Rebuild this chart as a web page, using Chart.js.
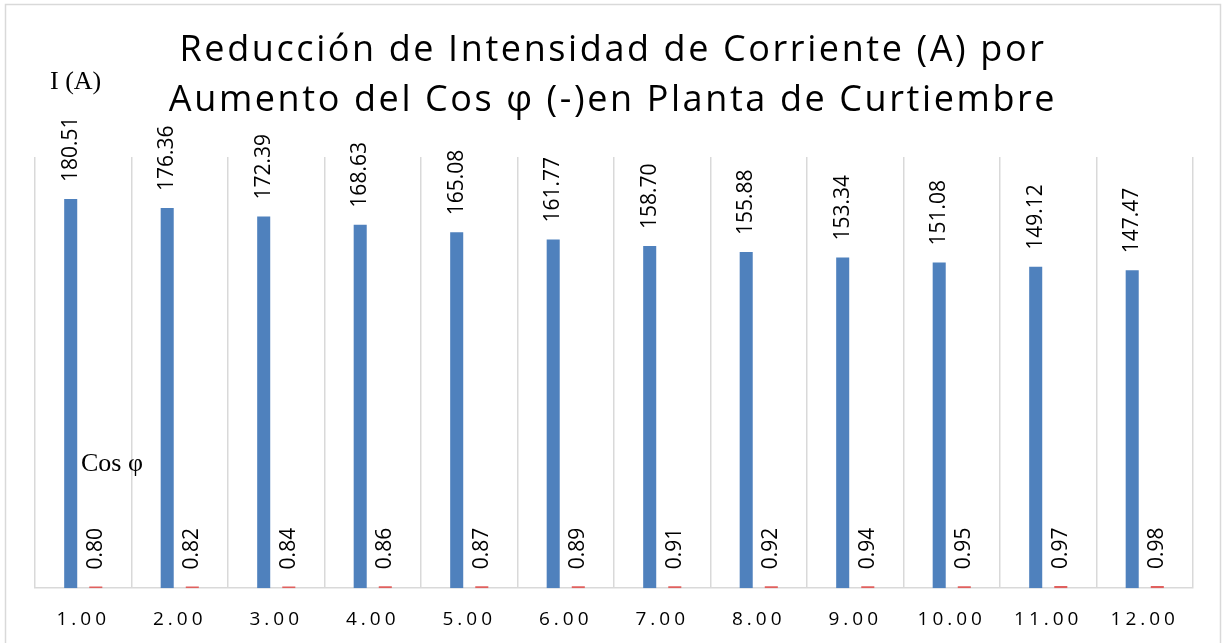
<!DOCTYPE html>
<html>
<head>
<meta charset="utf-8">
<script src="https://cdn.jsdelivr.net/npm/chart.js@4"></script>
<style>
  html, body { margin: 0; padding: 0; background: #fff; }
  canvas { display: block; }
</style>
</head>
<body>
<canvas id="chart" width="1222" height="643"></canvas>
<script>
// Data
const categories = ['1.00', '2.00', '3.00', '4.00', '5.00', '6.00', '7.00', '8.00', '9.00', '10.00', '11.00', '12.00'];
const corriente = [180.51, 176.36, 172.39, 168.63, 165.08, 161.77, 158.70, 155.88, 153.34, 151.08, 149.12, 147.47];
const cosPhi = [0.80, 0.82, 0.84, 0.86, 0.87, 0.89, 0.91, 0.92, 0.94, 0.95, 0.97, 0.98];
const titleLines = ['Reducción de Intensidad de Corriente (A) por', 'Aumento del Cos φ (-)en Planta de Curtiembre'];

const colors = {
    blue: '#4f81bd',
    red: '#e0605e',
    grid: '#d9d9d9',
    text: '#000000'
};

// frame, title, axis captions and value labels
const decorPlugin = {
    id: 'decor',
    beforeDraw(chart) {
        const ctx = chart.ctx;
        ctx.save();
        ctx.fillStyle = '#fff';
        ctx.fillRect(0, 0, chart.width, chart.height);
        ctx.strokeStyle = colors.grid;
        ctx.lineWidth = 1.5;
        ctx.strokeRect(5.5, 4.5, chart.width - 7, chart.height + 10);
        ctx.restore();
        // spaced-out tick labels like the original
        ctx.letterSpacing = '4px';
    },
    beforeDatasetsDraw(chart) {
        chart.ctx.letterSpacing = '0px';
    },
    afterDatasetsDraw(chart) {
        const ctx = chart.ctx;
        ctx.save();
        ctx.letterSpacing = '0px';
        ctx.fillStyle = colors.text;
        ctx.font = '21px "Open Sans", sans-serif';
        ctx.textAlign = 'left';
        ctx.textBaseline = 'middle';
        chart.data.datasets.forEach((ds, di) => {
            chart.getDatasetMeta(di).data.forEach((bar, i) => {
                ctx.save();
                ctx.translate(bar.x, bar.y - 17);
                ctx.rotate(-Math.PI / 2);
                ctx.fillText(ds.data[i].toFixed(2), 0, 0);
                ctx.restore();
            });
        });

        // title
        ctx.letterSpacing = '2.6px';
        ctx.textAlign = 'center';
        ctx.font = '36px "Open Sans", sans-serif';
        ctx.fillText(titleLines[0], chart.width / 2 + 2, 51);
        ctx.fillText(titleLines[1], chart.width / 2 + 2, 101);

        // axis captions
        ctx.letterSpacing = '0px';
        ctx.textAlign = 'left';
        ctx.font = '26px "Liberation Serif", serif';
        ctx.fillText('I (A)', 50, 82);
        ctx.fillText('Cos φ', 81, 464);
        ctx.restore();
    }
};

new Chart(document.getElementById('chart').getContext('2d'), {
    type: 'bar',
    data: {
        labels: categories,
        datasets: [
            {
                label: 'I (A)',
                data: corriente,
                backgroundColor: colors.blue,
                barPercentage: 0.52,
                categoryPercentage: 0.52
            },
            {
                label: 'Cos φ',
                data: cosPhi,
                backgroundColor: colors.red,
                barPercentage: 0.52,
                categoryPercentage: 0.52
            }
        ]
    },
    options: {
        responsive: false,
        animation: false,
        layout: { padding: { left: 35, right: 29, top: 157, bottom: -8 } },
        plugins: {
            legend: { display: false },
            title: { display: false },
            tooltip: { enabled: false }
        },
        scales: {
            x: {
                grid: { color: colors.grid, lineWidth: 1.5, offset: true, drawTicks: false },
                border: { color: colors.grid, width: 1.5 },
                ticks: {
                    color: colors.text,
                    padding: 20,
                    maxRotation: 0,
                    autoSkip: false,
                    font: { family: "'Open Sans', sans-serif", size: 19 }
                }
            },
            y: {
                display: false,
                min: 0,
                max: 200
            }
        }
    },
    plugins: [decorPlugin]
});
</script>
</body>
</html>
